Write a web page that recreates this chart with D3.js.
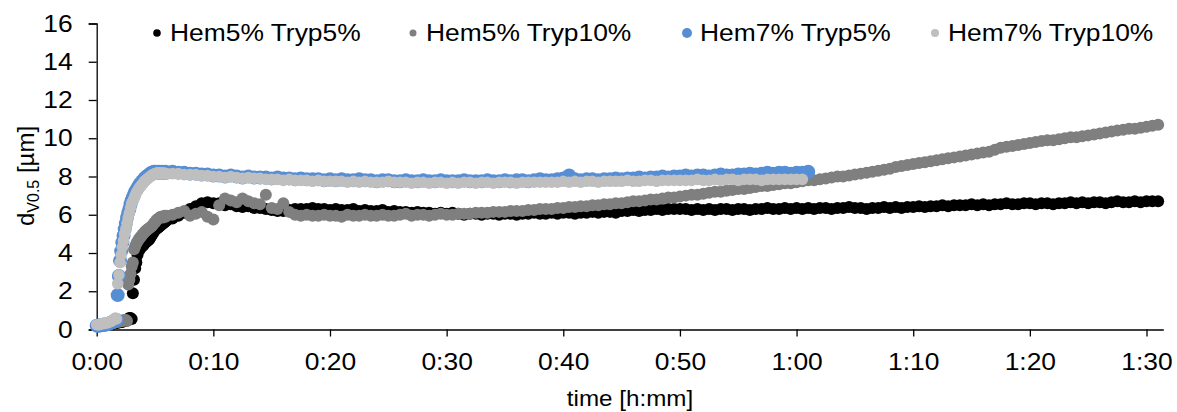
<!DOCTYPE html>
<html>
<head>
<meta charset="utf-8">
<script src="https://cdn.jsdelivr.net/npm/d3@7"></script>
<style>
  body { margin: 0; background: #fff; }
  text { font-family: "Liberation Sans", Arial, sans-serif; fill: #000; }
</style>
</head>
<body>
<svg id="chart" width="1177" height="412"></svg>
<script>
'use strict';

// series + styling lookups
var seriesNames = ['Hem5% Tryp5%', 'Hem5% Tryp10%', 'Hem7% Tryp5%', 'Hem7% Tryp10%'];
var seriesColors = ['#000000', '#7f7f7f', '#558ed5', '#bfbfbf'];

// axis ticks (minutes) and labels
var xTicks = [0, 10, 20, 30, 40, 50, 60, 70, 80, 90];
var xTickLabels = ['0:00', '0:10', '0:20', '0:30', '0:40', '0:50', '1:00', '1:10', '1:20', '1:30'];
var yTicks = [0, 2, 4, 6, 8, 10, 12, 14, 16];

// sampling: first 6 min read every 0.1 min, afterwards every 0.5 min
var riseStart = 0, riseStep = 0.1;
var mainStart = 6.5, mainStep = 0.5;

// Hem5% Tryp5%
var h5t5Rise = [0.2,0.2,0.2,0.2,0.22,0.22,0.25,0.25,0.25,0.28,0.28,0.3,0.3,0.3,0.32,0.32,0.35,0.35,0.35,0.38,0.38,0.4,0.4,0.42,0.45,0.45,0.5,0.55,0.6,0.6,0.55,
  1.9,2.6,3.2,3.5,3.9,4.1,4.2,4.3,4.35,4.4,4.5,4.55,4.6,4.65,4.7,4.8,4.9,5.0,5.1,5.2,5.25,5.3,5.35,5.4,5.45,5.5,5.55,5.6,5.65,5.7];
var h5t5Main = [5.8,5.95,6.1,6.3,6.45,6.6,6.65,6.6,6.6,6.5,6.55,6.45,6.4,6.45,6.35,6.35,6.3,6.25,6.2,6.2,6.25,6.3,6.3,6.3,6.35,6.3,6.3,6.25,
  6.3,6.25,6.25,6.3,6.2,6.25,6.2,6.2,6.25,6.15,6.2,6.15,6.15,6.1,6.15,6.1,6.1,6.05,6.1,6.05,
  6.1,6.05,6.0,6.05,6.05,6.0,6.05,6.05,6.0,6.05,6.05,6.0,6.05,6.05,6.1,6.05,6.05,6.1,6.05,6.1,
  6.1,6.05,6.1,6.1,6.15,6.1,6.15,6.15,6.1,6.2,6.2,6.25,6.2,6.25,6.25,6.3,6.25,6.3,6.3,6.3,
  6.3,6.25,6.3,6.25,6.3,6.25,6.3,6.3,6.25,6.3,6.3,6.25,6.3,6.3,6.35,6.3,6.3,6.35,6.3,6.35,
  6.3,6.35,6.3,6.35,6.35,6.3,6.35,6.35,6.4,6.35,6.35,6.3,6.35,6.35,6.4,6.35,6.4,6.35,6.4,6.4,
  6.45,6.4,6.45,6.45,6.5,6.45,6.5,6.5,6.5,6.55,6.5,6.55,6.5,6.55,6.55,6.6,6.55,6.55,6.6,6.6,
  6.55,6.6,6.6,6.55,6.6,6.6,6.65,6.6,6.65,6.6,6.65,6.65,6.6,6.65,6.7,6.65,6.65,6.7,6.65,6.7,6.7,6.7];

// Hem5% Tryp10%
var h5t10Rise = [0.2,0.2,0.22,0.22,0.25,0.25,0.25,0.28,0.28,0.3,0.3,0.3,0.32,0.32,0.35,0.35,0.38,0.4,0.4,0.42,0.42,0.45,0.45,0.48,0.5,0.5,0.45,
  2.35,2.6,2.9,3.3,3.5,4.2,4.35,4.5,4.6,4.7,4.8,4.85,4.95,5.0,5.1,5.15,5.2,5.25,5.3,5.35,5.4,5.45,5.55,5.6,5.7,5.75,5.8,5.85,5.9,5.9,5.85,5.95,5.9,5.95];
var h5t10Main = [6.0,6.1,6.2,5.95,6.05,6.15,5.9,5.75,6.5,6.85,6.75,6.65,6.85,6.7,6.6,6.55,7.05,6.35,6.3,6.6,6.15,6.0,5.95,6.0,5.95,5.95,6.0,5.95,
  5.95,5.9,6.0,5.95,5.95,6.0,5.95,5.95,6.0,5.95,5.95,6.0,6.05,5.95,6.0,6.0,5.95,6.0,6.05,6.0,
  6.0,6.05,6.05,6.05,6.1,6.1,6.1,6.15,6.15,6.15,6.2,6.2,6.2,6.25,6.25,6.3,6.3,6.3,6.35,6.35,
  6.4,6.4,6.45,6.45,6.5,6.5,6.55,6.55,6.6,6.6,6.65,6.7,6.7,6.75,6.8,6.8,6.85,6.9,6.9,6.95,
  7.0,7.05,7.05,7.1,7.15,7.2,7.2,7.25,7.3,7.35,7.35,7.4,7.45,7.5,7.5,7.55,7.6,7.65,7.65,7.7,
  7.75,7.8,7.8,7.85,7.9,7.95,8.0,8.0,8.05,8.1,8.15,8.2,8.25,8.3,8.35,8.4,8.5,8.55,8.6,8.65,
  8.7,8.75,8.8,8.85,8.9,8.95,9.0,9.05,9.1,9.15,9.2,9.25,9.3,9.4,9.5,9.55,9.6,9.65,9.7,9.75,
  9.8,9.85,9.9,9.9,9.95,10.0,10.05,10.05,10.1,10.15,10.2,10.25,10.3,10.35,10.4,10.45,10.5,10.5,10.55,10.6,10.65,10.7];

// Hem7% Tryp5%
var h7t5Rise = [0.2,0.2,0.2,0.22,0.22,0.25,0.25,0.25,0.28,0.28,0.3,0.32,0.35,0.38,0.4,0.45,0.5,0.5,
  1.8,2.8,3.6,4.1,4.55,4.9,5.25,5.55,5.85,6.1,6.3,6.55,6.75,6.9,7.05,7.2,7.3,7.4,7.5,7.6,7.65,7.75,7.8,7.9,7.95,8.0,8.05,8.1,8.15,8.2,8.2,8.25,8.25,8.2,8.25,8.2,8.25,8.2,8.25,8.2,8.2,8.25,8.2];
var h7t5Main = [8.25,8.2,8.2,8.15,8.15,8.1,8.1,8.05,8.05,8.0,8.05,8.0,7.95,8.0,7.95,7.95,7.95,7.9,7.95,7.9,7.9,7.85,7.9,7.85,7.85,7.85,7.8,7.85,
  7.8,7.85,7.8,7.8,7.85,7.8,7.8,7.75,7.8,7.8,7.75,7.75,7.8,7.75,7.75,7.8,7.75,7.75,7.8,7.75,
  7.75,7.75,7.8,7.75,7.75,7.75,7.8,7.75,7.75,7.8,7.75,7.8,7.8,7.75,7.8,7.85,7.8,7.8,7.85,7.9,
  8.05,7.85,7.8,7.85,7.85,7.8,7.85,7.85,7.9,7.85,7.9,7.9,7.95,7.9,7.95,7.95,8.0,7.95,8.0,8.0,
  8.05,8.0,8.05,8.05,8.0,8.05,8.1,8.05,8.05,8.1,8.1,8.15,8.1,8.15,8.2,8.15,8.2,8.2,8.15,8.2,
  8.2,8.25];

// Hem7% Tryp10%
var h7t10Rise = [0.25,0.25,0.25,0.28,0.3,0.3,0.32,0.32,0.35,0.35,0.38,0.4,0.42,0.45,0.5,0.55,0.6,0.55,
  2.4,2.85,3.5,3.9,4.3,4.65,5.0,5.25,5.55,5.85,6.1,6.35,6.6,6.7,6.85,7.0,7.15,7.25,7.35,7.45,7.5,7.6,7.65,7.75,7.8,7.85,7.9,7.95,8.0,8.05,8.1,8.1,8.15,8.15,8.2,8.15,8.2,8.15,8.15,8.2,8.15,8.15,8.15];
var h7t10Main = [8.15,8.15,8.1,8.1,8.1,8.05,8.05,8.0,8.0,7.95,8.0,7.95,7.9,7.95,7.9,7.9,7.85,7.85,7.85,7.8,7.85,7.8,7.8,7.8,7.75,7.8,7.75,7.75,
  7.75,7.75,7.7,7.75,7.7,7.75,7.7,7.7,7.7,7.75,7.7,7.7,7.7,7.65,7.7,7.7,7.65,7.7,7.7,7.65,
  7.7,7.65,7.7,7.7,7.65,7.7,7.7,7.65,7.7,7.7,7.7,7.65,7.7,7.7,7.7,7.7,7.7,7.7,7.7,7.75,
  7.7,7.75,7.7,7.75,7.75,7.7,7.75,7.75,7.75,7.75,7.8,7.75,7.75,7.8,7.8,7.75,7.8,7.8,7.8,7.8,
  7.8,7.8,7.85,7.8,7.8,7.85,7.8,7.85,7.85,7.8,7.85,7.85,7.85,7.8,7.85,7.85,7.85,7.85,7.85,7.85,
  7.85];

var seriesRise = [h5t5Rise, h5t10Rise, h7t5Rise, h7t10Rise];
var seriesMain = [h5t5Main, h5t10Main, h7t5Main, h7t10Main];
var markerR = [6, 6, 7, 5.8];
var legendR = [3.8, 3.5, 5, 4];

// chart frame
var margin = {top: 23.5, right: 13.7, bottom: 82.5, left: 96.7},
    width = 1177 - margin.left - margin.right,
    height = 412 - margin.top - margin.bottom;
var fontSize = 24, stretch = 1.1;

var svg = d3.select('#chart')
  .append('g')
    .attr('transform', 'translate(' + margin.left + ',' + margin.top + ')');

var x = d3.scaleLinear().domain([0, 91.44]).range([0, width]);
var y = d3.scaleLinear().domain([0, 16]).range([height, 0]);

// y axis
var yAxis = svg.append('g')
    .call(d3.axisLeft(y).tickValues(yTicks).tickSize(8).tickPadding(0));
yAxis.select('.domain').attr('stroke', '#000').attr('stroke-width', 1.3);
yAxis.selectAll('.tick line').attr('stroke', '#000').attr('stroke-width', 1.3);
yAxis.selectAll('.tick text')
    .attr('x', -24 / stretch)
    .attr('transform', 'scale(' + stretch + ',1)')
    .style('font-size', fontSize + 'px')
    .style('font-family', '"Liberation Sans", Arial, sans-serif');

// x axis
var xAxis = svg.append('g')
    .attr('transform', 'translate(0,' + height + ')')
    .call(d3.axisBottom(x).tickValues(xTicks)
      .tickFormat(function(d, i) { return xTickLabels[i]; })
      .tickSize(7).tickSizeOuter(0));
xAxis.select('.domain').attr('stroke', '#000').attr('stroke-width', 1.3);
xAxis.selectAll('.tick line').attr('stroke', '#000').attr('stroke-width', 1.3);
xAxis.selectAll('.tick text')
    .attr('y', 41)
    .attr('dy', null)
    .attr('transform', 'scale(' + stretch + ',1)')
    .style('font-size', fontSize + 'px')
    .style('font-family', '"Liberation Sans", Arial, sans-serif');

// axis titles
svg.append('text')
    .attr('transform', 'translate(' + (630 - margin.left) + ',' + (406 - margin.top) + ') scale(' + stretch + ',1)')
    .style('text-anchor', 'middle')
    .style('font-size', '22px')
    .text('time [h:mm]');

var yTitle = svg.append('text')
    .attr('transform', 'translate(' + (34 - margin.left) + ',' + (176 - margin.top) + ') rotate(-90)')
    .style('text-anchor', 'middle')
    .style('font-size', '24px');
yTitle.append('tspan').text('d');
yTitle.append('tspan').attr('dy', 5).style('font-size', '16px').text('V0.5');
yTitle.append('tspan').attr('dy', -5).text(' [µm]');

// data points
function toPoints(rise, main) {
  var pts = rise.map(function(v, i) { return {t: riseStart + i * riseStep, v: v}; });
  return pts.concat(main.map(function(v, i) { return {t: mainStart + i * mainStep, v: v}; }));
}

seriesNames.forEach(function(name, s) {
  svg.append('g')
      .attr('class', 'series')
    .selectAll('circle')
      .data(toPoints(seriesRise[s], seriesMain[s]))
    .enter().append('circle')
      .attr('cx', function(d) { return x(d.t); })
      .attr('cy', function(d) { return y(d.v); })
      .attr('r', markerR[s])
      .attr('fill', seriesColors[s]);
});

// legend
var legendDotX = [157, 413, 687, 935];
var legend = d3.select('#chart').append('g');
seriesNames.forEach(function(name, s) {
  legend.append('circle')
      .attr('cx', legendDotX[s])
      .attr('cy', 33)
      .attr('r', legendR[s])
      .attr('fill', seriesColors[s]);
  legend.append('text')
      .attr('transform', 'translate(' + (legendDotX[s] + 13) + ',41) scale(' + stretch + ',1)')
      .style('font-size', fontSize + 'px')
      .text(name);
});
</script>
</body>
</html>
